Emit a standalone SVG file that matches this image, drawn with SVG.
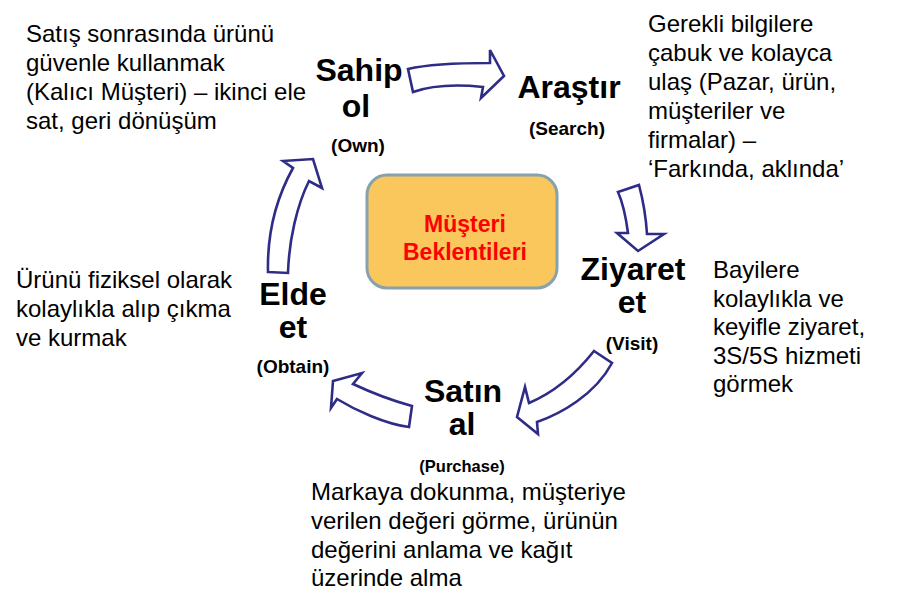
<svg xmlns="http://www.w3.org/2000/svg" width="899" height="607" viewBox="0 0 899 607">
<style>
.arrow{fill:#fff;stroke:#2e2c86;stroke-width:2.6;stroke-linejoin:miter}
.lbl{font-family:"Liberation Sans",Arial,sans-serif;font-weight:bold;font-size:32px;fill:#000;text-anchor:middle}
.sub{font-family:"Liberation Sans",Arial,sans-serif;font-weight:bold;font-size:19px;fill:#000;text-anchor:middle}
.desc{font-family:"Liberation Sans",Arial,sans-serif;font-size:24px;fill:#000}
.ctr{font-family:"Liberation Sans",Arial,sans-serif;font-weight:bold;font-size:23px;fill:#ff0000;text-anchor:middle}
</style>
<rect width="899" height="607" fill="#fff"/>
<g id="connectors">
<path class="arrow" d="M408,69 C425,65 450,63 490,63 L490,50 L504,76 L481,98 L483,87 C455,84 430,86 413,92 Z"/>
<path class="arrow" d="M618,192 L639,185 C643,200 646,218 647,234 L664,234 L638,251 L617,233 L628,233 C626,218 623,203 618,192 Z"/>
<path class="arrow" d="M594,351 L612,363 C595,395 560,414 537,422 L538,434 L517,417 L525,387 L529,403 C555,392 575,375 594,351 Z"/>
<path class="arrow" d="M412,406 L409,427 C385,424 355,410 337,399 L331,408 L333,381 L362,373 L353,384 C370,392 390,400 412,406 Z"/>
<path class="arrow" d="M268,272 L288,273 C289,240 297,205 309,181 L322,188 L313,159 L283,161 L293,168 C278,195 267,230 268,272 Z"/>
</g>
<g id="center">
<rect x="367" y="175" width="190" height="113" rx="20" fill="#f9c75c" stroke="#86a2ae" stroke-width="3"/>
<text class="ctr" x="465" y="232">Müşteri</text>
<text class="ctr" x="465" y="260">Beklentileri</text>
</g>
<g id="own">
<text class="lbl" x="359" y="81">Sahip</text>
<text class="lbl" x="356" y="117">ol</text>
<text class="sub" x="358" y="152">(Own)</text>
<text class="desc"><tspan x="26" y="42">Satış sonrasında ürünü</tspan><tspan x="26" y="71">güvenle kullanmak</tspan><tspan x="26" y="100">(Kalıcı Müşteri) – ikinci ele</tspan><tspan x="26" y="129">sat, geri dönüşüm</tspan></text>
</g>
<g id="search">
<text class="lbl" x="569" y="98">Araştır</text>
<text class="sub" x="567" y="135">(Search)</text>
<text class="desc"><tspan x="648" y="32">Gerekli bilgilere</tspan><tspan x="648" y="61">çabuk ve kolayca</tspan><tspan x="648" y="90">ulaş (Pazar, ürün,</tspan><tspan x="648" y="119">müşteriler ve</tspan><tspan x="648" y="148">firmalar) –</tspan><tspan x="648" y="177">‘Farkında, aklında’</tspan></text>
</g>
<g id="visit">
<text class="lbl" x="633" y="280">Ziyaret</text>
<text class="lbl" x="632" y="313">et</text>
<text class="sub" x="632" y="350">(Visit)</text>
<text class="desc"><tspan x="713" y="278">Bayilere</tspan><tspan x="713" y="307">kolaylıkla ve</tspan><tspan x="713" y="335">keyifle ziyaret,</tspan><tspan x="713" y="364">3S/5S hizmeti</tspan><tspan x="713" y="392">görmek</tspan></text>
</g>
<g id="purchase">
<text class="lbl" x="463" y="402">Satın</text>
<text class="lbl" x="462" y="435">al</text>
<text class="sub" x="462" y="472" style="font-size:16.5px">(Purchase)</text>
<text class="desc"><tspan x="311" y="500">Markaya dokunma, müşteriye</tspan><tspan x="311" y="529">verilen değeri görme, ürünün</tspan><tspan x="311" y="558">değerini anlama ve kağıt</tspan><tspan x="311" y="586">üzerinde alma</tspan></text>
</g>
<g id="obtain">
<text class="lbl" x="293" y="305">Elde</text>
<text class="lbl" x="293" y="338">et</text>
<text class="sub" x="293" y="373">(Obtain)</text>
<text class="desc"><tspan x="16" y="288">Ürünü fiziksel olarak</tspan><tspan x="16" y="317">kolaylıkla alıp çıkma</tspan><tspan x="16" y="346">ve kurmak</tspan></text>
</g>
</svg>
